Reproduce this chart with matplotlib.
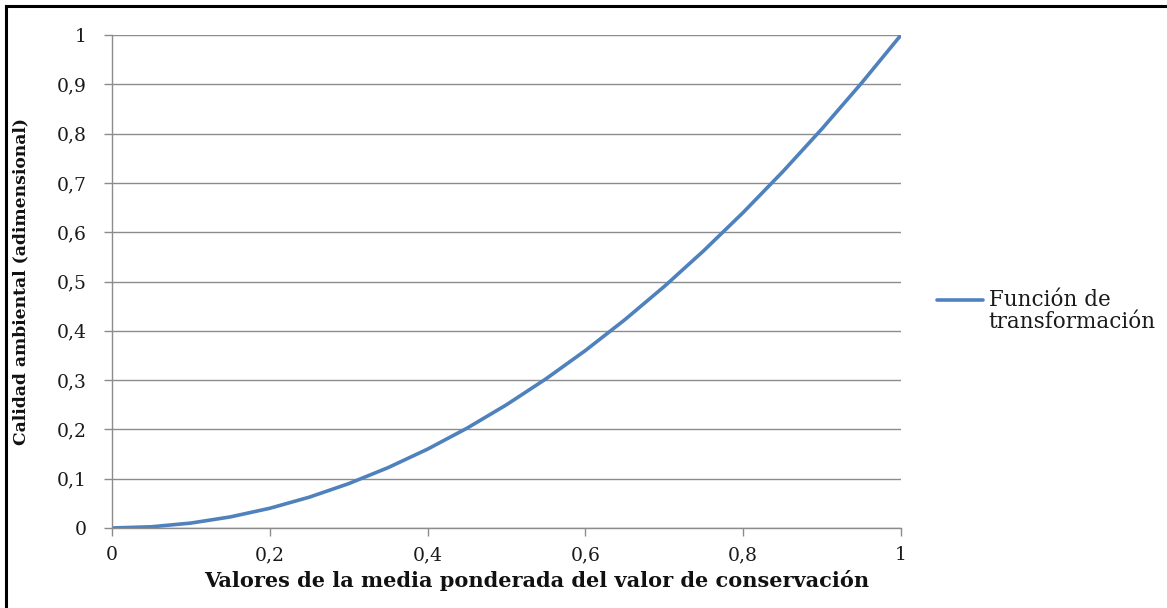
import matplotlib
matplotlib.use("Agg")
import matplotlib.pyplot as plt
from matplotlib.lines import Line2D
from matplotlib.ticker import FuncFormatter
from matplotlib.legend_handler import HandlerLine2D

# Values
x_vals = [0, 0.05, 0.1, 0.15, 0.2, 0.25, 0.3, 0.35, 0.4, 0.45, 0.5,
          0.55, 0.6, 0.65, 0.7, 0.75, 0.8, 0.85, 0.9, 0.95, 1.0]
y_vals = [0, 0.0025, 0.01, 0.0225, 0.04, 0.0625, 0.09, 0.1225, 0.16, 0.2025, 0.25,
          0.3025, 0.36, 0.4225, 0.49, 0.5625, 0.64, 0.7225, 0.81, 0.9025, 1.0]
x_ticks = [0, 0.2, 0.4, 0.6, 0.8, 1.0]
y_ticks = [0, 0.1, 0.2, 0.3, 0.4, 0.5, 0.6, 0.7, 0.8, 0.9, 1.0]
series_label = "Función de\ntransformación"
x_label = "Valores de la media ponderada del valor de conservación"
y_label = "Calidad ambiental (adimensional)"

plt.rcParams['font.family'] = ['DejaVu Serif']

W, H = 1167, 608
fig = plt.figure(figsize=(W / 100, H / 100), dpi=100)
ax = fig.add_axes([112 / W, 1 - 528 / H, (901 - 112) / W, (528 - 35) / H])

ax.plot(x_vals, y_vals, color='#4F81BD', lw=2.6, label=series_label,
        solid_capstyle='round')

ax.set_xlim(0, 1)
ax.set_ylim(0, 1)
ax.set_xticks(x_ticks)
ax.set_yticks(y_ticks)

def fmt(v, pos):
    s = f"{v:.1f}".rstrip('0').rstrip('.')
    return s.replace('.', ',')

ax.xaxis.set_major_formatter(FuncFormatter(fmt))
ax.yaxis.set_major_formatter(FuncFormatter(fmt))

ax.grid(axis='y', color='#8c8c8c', lw=1.0)
ax.set_axisbelow(True)
for s in ['top', 'right']:
    ax.spines[s].set_visible(False)
for s in ['left', 'bottom']:
    ax.spines[s].set_color('#8c8c8c')
    ax.spines[s].set_linewidth(1.0)
ax.tick_params(axis='both', colors='#8c8c8c', length=6, width=1.0,
               labelcolor='#1a1a1a', labelsize=13.5, direction='out')
ax.tick_params(axis='y', pad=12)
ax.tick_params(axis='x', pad=7)

ax.set_xlabel(x_label, fontsize=15, fontweight='bold', color='#111111')
ax.set_ylabel(y_label, fontsize=12.3, fontweight='bold', color='#111111')
ax.yaxis.set_label_coords(-(112 - 29) / 789, 0.5)
ax.xaxis.set_label_coords((537 - 112) / 789, -(570 - 528) / 493)


class TopLineHandler(HandlerLine2D):
    def create_artists(self, legend, orig_handle, xdescent, ydescent, width,
                       height, fontsize, trans):
        artists = super().create_artists(legend, orig_handle, xdescent, ydescent,
                                         width, height, fontsize, trans)
        for a in artists:
            yd = a.get_ydata()
            a.set_ydata([v + 0.55 * fontsize for v in yd])
        return artists


leg = ax.legend(loc='center left', bbox_to_anchor=(1.0456, 0.44), frameon=False,
                fontsize=15.5, handlelength=2.15, handletextpad=0.25, labelcolor='#1a1a1a',
                borderaxespad=0, borderpad=0, labelspacing=0.2,
                handler_map={Line2D: TopLineHandler()})
for t in leg.get_texts():
    t.set_linespacing(1.0)

# outer frame (left and top visible)
fig.add_artist(Line2D([6 / W, 6 / W], [0, 1 - 6 / H], color='black', lw=2.2,
                      transform=fig.transFigure))
fig.add_artist(Line2D([6 / W, 1], [1 - 6 / H, 1 - 6 / H], color='black', lw=2.2,
                      transform=fig.transFigure))

fig.savefig("out.png", dpi=100)
